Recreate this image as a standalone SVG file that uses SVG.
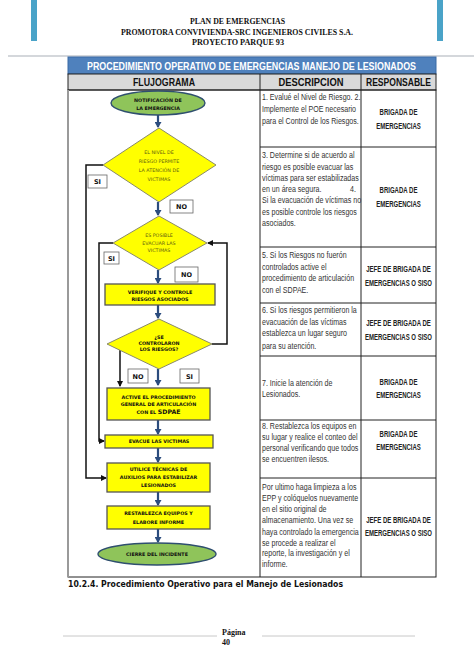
<svg xmlns="http://www.w3.org/2000/svg" width="474" height="670" viewBox="0 0 474 670">
<style>
.hdr{font-family:"Liberation Serif",serif;font-weight:bold;font-size:8px;fill:#111;text-anchor:middle}
.th{font-family:"Liberation Sans",Arial,sans-serif;font-weight:bold;font-size:10.5px;fill:#111;text-anchor:middle}
.desc{font-family:"Liberation Sans",Arial,sans-serif;font-size:9.2px;fill:#333}
.resp{font-family:"Liberation Sans",Arial,sans-serif;font-weight:bold;font-size:8.6px;fill:#222;text-anchor:middle}
.ft{font-family:"DejaVu Sans",Verdana,sans-serif;font-weight:bold;font-size:4.8px;fill:#111;text-anchor:middle}
.fd{font-family:"DejaVu Sans",Verdana,sans-serif;font-size:4.8px;fill:#5e5e12;text-anchor:middle}
.lbl{font-family:"DejaVu Sans",Verdana,sans-serif;font-weight:bold;font-size:6.5px;fill:#111;text-anchor:middle}
.box{fill:#ffff00;stroke:#555;stroke-width:1.3}
.dia{fill:#ffff00;stroke:#8a8a6a;stroke-width:1}
.oval{fill:#8fc45a;stroke:#2f4f6f;stroke-width:1.4}
.lb{fill:#fff;stroke:#666;stroke-width:0.8}
.ab{fill:none;stroke:#2b4c7e;stroke-width:2.2}
.bk{fill:none;stroke:#111;stroke-width:1.5}
.grid{stroke:#222;stroke-width:1;fill:none}
</style>
<defs>
<marker id="mb" markerUnits="userSpaceOnUse" markerWidth="7" markerHeight="7" refX="5" refY="3.5" orient="auto"><path d="M0,0 L6,3.5 L0,7 z" fill="#2b4c7e"/></marker>
<marker id="mk" markerUnits="userSpaceOnUse" markerWidth="7" markerHeight="7" refX="5" refY="3.5" orient="auto"><path d="M0,0.5 L6,3.5 L0,6.5 z" fill="#111"/></marker>
</defs>

<g id="page-header">
<rect x="31" y="0" width="6" height="41" fill="#4aa3c8"/>
<rect x="437" y="0" width="6" height="41" fill="#4aa3c8"/>
<text class="hdr" x="237.5" y="24" textLength="95" lengthAdjust="spacingAndGlyphs">PLAN DE EMERGENCIAS</text>
<text class="hdr" x="237" y="35" textLength="232" lengthAdjust="spacingAndGlyphs">PROMOTORA CONVIVIENDA-SRC INGENIEROS CIVILES S.A.</text>
<text class="hdr" x="238" y="45" textLength="92" lengthAdjust="spacingAndGlyphs">PROYECTO PARQUE 93</text>
<line x1="8" y1="56" x2="474" y2="56" stroke="#a9b0b8" stroke-width="1.2"/>
</g>

<g id="table">
<rect x="68" y="57" width="368" height="17" fill="#4f81bd" stroke="#3a6aa5" stroke-width="1"/>
<text x="251.5" y="69.5" font-family="Liberation Sans, Arial, sans-serif" font-weight="bold" font-size="10" fill="#fff" text-anchor="middle" textLength="329" lengthAdjust="spacingAndGlyphs">PROCEDIMIENTO OPERATIVO DE EMERGENCIAS MANEJO DE LESIONADOS</text>
<rect x="68" y="74" width="368" height="16" fill="#d9d9d9" stroke="#222" stroke-width="1"/>
<text class="th" x="164" y="86" textLength="62" lengthAdjust="spacingAndGlyphs">FLUJOGRAMA</text>
<text class="th" x="311" y="86" textLength="65" lengthAdjust="spacingAndGlyphs">DESCRIPCION</text>
<text class="th" x="398.5" y="86" textLength="65" lengthAdjust="spacingAndGlyphs">RESPONSABLE</text>
<rect class="grid" x="68" y="90" width="368" height="487"/>
<line x1="68" y1="90" x2="68" y2="577" stroke="#9a9a9a" stroke-width="2"/>
<line class="grid" x1="260" y1="74" x2="260" y2="577"/>
<line class="grid" x1="361" y1="74" x2="361" y2="577"/>
<line class="grid" x1="260" y1="147" x2="436" y2="147"/>
<line class="grid" x1="260" y1="247" x2="436" y2="247"/>
<line class="grid" x1="260" y1="303" x2="436" y2="303"/>
<line class="grid" x1="260" y1="356" x2="436" y2="356"/>
<line class="grid" x1="260" y1="420" x2="436" y2="420"/>
<line class="grid" x1="260" y1="478" x2="436" y2="478"/>
</g>

<g id="descriptions" transform="translate(262,0) scale(0.77,1)">
<text class="desc" x="0" y="100">1. Evalué el Nivel de Riesgo. 2.</text>
<text class="desc" x="0" y="112">Implemente el POE necesario</text>
<text class="desc" x="0" y="124">para el Control de los Riesgos.</text>
<text class="desc" x="0" y="158">3. Determine si de acuerdo al</text>
<text class="desc" x="0" y="170">riesgo es posible evacuar las</text>
<text class="desc" x="0" y="181">víctimas para ser estabilizadas</text>
<text class="desc" x="0" y="192">en un área segura.</text>
<text class="desc" x="122" y="192" text-anchor="end">4.</text>
<text class="desc" x="0" y="203">Si la evacuación de víctimas no</text>
<text class="desc" x="0" y="215">es posible controle los riesgos</text>
<text class="desc" x="0" y="226">asociados.</text>
<text class="desc" x="0" y="258">5. Si los Riesgos no fuerón</text>
<text class="desc" x="0" y="270">controlados active el</text>
<text class="desc" x="0" y="281">procedimiento de articulación</text>
<text class="desc" x="0" y="293">con el SDPAE.</text>
<text class="desc" x="0" y="313">6. Si los riesgos permitieron la</text>
<text class="desc" x="0" y="325">evacuación de las víctimas</text>
<text class="desc" x="0" y="336">establezca un lugar seguro</text>
<text class="desc" x="0" y="349">para su atención.</text>
<text class="desc" x="0" y="386">7. Inicie la atención de</text>
<text class="desc" x="0" y="397">Lesionados.</text>
<text class="desc" x="0" y="429">8. Restablezca los equipos en</text>
<text class="desc" x="0" y="440">su lugar y realice el conteo del</text>
<text class="desc" x="0" y="451">personal verificando que todos</text>
<text class="desc" x="0" y="462">se encuentren ilesos.</text>
<text class="desc" x="0" y="490">Por ultimo haga limpieza a los</text>
<text class="desc" x="0" y="501">EPP y colóquelos nuevamente</text>
<text class="desc" x="0" y="512">en el sitio original de</text>
<text class="desc" x="0" y="523">almacenamiento. Una vez se</text>
<text class="desc" x="0" y="535">haya controlado la emergencia</text>
<text class="desc" x="0" y="546">se procede a realizar el</text>
<text class="desc" x="0" y="556">reporte, la investigación y el</text>
<text class="desc" x="0" y="567">informe.</text>
</g>

<g id="responsables" transform="translate(398.5,0) scale(0.7,1)">
<text class="resp" x="0" y="115">BRIGADA DE</text>
<text class="resp" x="0" y="129">EMERGENCIAS</text>
<text class="resp" x="0" y="193">BRIGADA DE</text>
<text class="resp" x="0" y="207">EMERGENCIAS</text>
<text class="resp" x="0" y="272">JEFE DE BRIGADA DE</text>
<text class="resp" x="0" y="286">EMERGENCIAS O SISO</text>
<text class="resp" x="0" y="326">JEFE DE BRIGADA DE</text>
<text class="resp" x="0" y="340">EMERGENCIAS O SISO</text>
<text class="resp" x="0" y="385">BRIGADA DE</text>
<text class="resp" x="0" y="398">EMERGENCIAS</text>
<text class="resp" x="0" y="437">BRIGADA DE</text>
<text class="resp" x="0" y="450">EMERGENCIAS</text>
<text class="resp" x="0" y="523">JEFE DE BRIGADA DE</text>
<text class="resp" x="0" y="536">EMERGENCIAS O SISO</text>
</g>

<g id="connectors">
<line class="ab" x1="158" y1="115" x2="158" y2="127" marker-end="url(#mb)"/>
<line class="ab" x1="158" y1="202" x2="158" y2="215" marker-end="url(#mb)"/>
<line class="ab" x1="158" y1="270" x2="158" y2="283" marker-end="url(#mb)"/>
<line class="ab" x1="158" y1="305" x2="158" y2="318" marker-end="url(#mb)"/>
<line class="ab" x1="158" y1="369" x2="158" y2="385" marker-end="url(#mb)"/>
<line class="ab" x1="158" y1="420" x2="158" y2="434" marker-end="url(#mb)"/>
<line class="ab" x1="158" y1="448" x2="158" y2="462" marker-end="url(#mb)"/>
<line class="ab" x1="158" y1="492" x2="158" y2="505" marker-end="url(#mb)"/>
<line class="ab" x1="158" y1="529" x2="158" y2="542" marker-end="url(#mb)"/>
<polyline class="bk" points="103,165 86,165 86,478 106,478" marker-end="url(#mk)"/>
<polyline class="bk" points="113,243 99,243 99,441 104,441" marker-end="url(#mk)"/>
<polyline class="bk" points="212,344 227,344 227,243 208,243" marker-end="url(#mk)"/>
<line class="bk" x1="120" y1="350" x2="120" y2="386" marker-end="url(#mk)"/>
</g>

<g id="n-notificacion">
<ellipse class="oval" cx="158" cy="103" rx="47" ry="12"/>
<text class="ft" x="158" y="101.5">NOTIFICACIÓN DE</text>
<text class="ft" x="158" y="110">LA EMERGENCIA</text>
</g>
<g id="n-nivel-riesgo">
<polygon class="dia" points="159,128 216,165 159,202 103,165"/>
<text class="fd" x="159" y="153.7">EL NIVEL DE</text>
<text class="fd" x="159" y="162.7">RIESGO PERMITE</text>
<text class="fd" x="159" y="172">LA ATENCIÓN DE</text>
<text class="fd" x="159" y="180.7">VICTIMAS</text>
</g>
<g id="n-evacuar">
<polygon class="dia" points="159,216 207,243 159,270 113,243"/>
<text class="fd" x="159" y="236.7">ES POSIBLE</text>
<text class="fd" x="159" y="244.7">EVACUAR LAS</text>
<text class="fd" x="159" y="251.7">VICTIMAS</text>
</g>
<g id="n-verifique">
<rect class="box" x="105" y="284" width="110" height="21"/>
<text class="ft" x="160" y="293.7">VERIFIQUE Y CONTROLE</text>
<text class="ft" x="160" y="300.9">RIESGOS ASOCIADOS</text>
</g>
<g id="n-controlaron">
<polygon class="dia" points="159,319 212,344 159,369 107,344"/>
<text class="ft" x="159" y="338.5" font-size="4.3">¿SE</text>
<text class="ft" x="159" y="344.7" font-size="4.3">CONTROLARON</text>
<text class="ft" x="159" y="350.7" font-size="4.3">LOS RIESGOS?</text>
</g>
<g id="n-active">
<rect class="box" x="107" y="388" width="103" height="32"/>
<text class="ft" x="158.5" y="398.7">ACTIVE EL PROCEDIMIENTO</text>
<text class="ft" x="158.5" y="405.9">GENERAL DE ARTICULACIÓN</text>
<text class="ft" x="158.5" y="414">CON EL <tspan font-size="6.2">SDPAE</tspan></text>
</g>
<g id="n-evacue">
<rect class="box" x="105" y="435" width="108" height="13"/>
<text class="ft" x="159" y="443.2">EVACUE LAS VICTIMAS</text>
</g>
<g id="n-utilice">
<rect class="box" x="107" y="463" width="103" height="29"/>
<text class="ft" x="158.5" y="470.7">UTILICE TÉCNICAS DE</text>
<text class="ft" x="158.5" y="478.7">AUXILIOS PARA ESTABILIZAR</text>
<text class="ft" x="158.5" y="486.7">LESIONADOS</text>
</g>
<g id="n-restablezca">
<rect class="box" x="107" y="506" width="103" height="23"/>
<text class="ft" x="158.5" y="514.7">RESTABLEZCA EQUIPOS Y</text>
<text class="ft" x="158.5" y="523.7">ELABORE INFORME</text>
</g>
<g id="n-cierre">
<ellipse class="oval" cx="157" cy="554" rx="59" ry="11"/>
<text class="ft" x="157" y="555.8">CIERRE DEL INCIDENTE</text>
</g>

<g id="labels">
<rect class="lb" x="88" y="175" width="19" height="13"/><text class="lbl" x="97.5" y="184">SI</text>
<rect class="lb" x="170" y="200" width="23" height="13"/><text class="lbl" x="181.5" y="209">NO</text>
<rect class="lb" x="104" y="252" width="15" height="12"/><text class="lbl" x="111.5" y="260.5">SI</text>
<rect class="lb" x="175" y="267" width="23" height="15"/><text class="lbl" x="186.5" y="277">NO</text>
<rect class="lb" x="128" y="369" width="20" height="14"/><text class="lbl" x="138" y="378.5">NO</text>
<rect class="lb" x="180" y="369" width="19" height="14"/><text class="lbl" x="189.5" y="378.5">SI</text>
</g>

<g id="footer">
<text x="68" y="587" font-family="DejaVu Sans, Verdana, sans-serif" font-weight="bold" font-size="8.5" fill="#111" textLength="275" lengthAdjust="spacingAndGlyphs">10.2.4. Procedimiento Operativo para el Manejo de Lesionados</text>
<line x1="63" y1="636" x2="217" y2="636" stroke="#c8c8c8" stroke-width="1"/>
<line x1="262" y1="636" x2="415" y2="636" stroke="#c8c8c8" stroke-width="1"/>
<text x="222" y="635" font-family="Liberation Serif, serif" font-weight="bold" font-size="8" fill="#111">Página</text>
<text x="222" y="645" font-family="Liberation Serif, serif" font-weight="bold" font-size="8" fill="#111">40</text>
</g>
</svg>
